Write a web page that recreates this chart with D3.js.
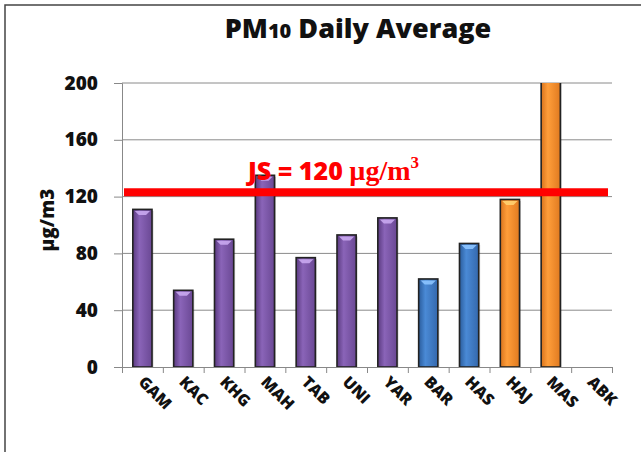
<!DOCTYPE html>
<html>
<head>
<meta charset="utf-8">
<script src="https://cdn.jsdelivr.net/npm/d3@7"></script>
<style>
  body { margin: 0; background: #fff; }
  svg { display: block; }
</style>
</head>
<body>
<div id="wrapper"></div>
<script>
// data
const stations = ["GAM", "KAC", "KHG", "MAH", "TAB", "UNI", "YAR", "BAR", "HAS", "HAJ", "MAS", "ABK"]
const pm10 = [111, 54, 90, 135, 77, 93, 105, 62, 87, 118, 215, null]
const groups = ["purple", "purple", "purple", "purple", "purple", "purple", "purple", "blue", "blue", "orange", "orange", "orange"]
const yTicks = [0, 40, 80, 120, 160, 200]
const standard = 123

const width = 641
const height = 452
const margin = { top: 83, right: 29, bottom: 85, left: 122 }
const boundedWidth = width - margin.left - margin.right
const boundedHeight = height - margin.top - margin.bottom

const font = "'Open Sans', Lato, sans-serif"

const svg = d3.select("#wrapper")
  .append("svg")
    .attr("width", width)
    .attr("height", height)

// gradients for the bevelled bars
const palette = {
  purple: ["#5a3a80", "#8a64b8", "#6a4894"],
  blue: ["#2a5c9c", "#4a8ad6", "#3468ad"],
  orange: ["#d8731c", "#ff9e3a", "#e07a20"],
}
const defs = svg.append("defs")
Object.entries(palette).forEach(([key, c]) => {
  const g = defs.append("linearGradient").attr("id", "grad-" + key)
    .attr("x1", "0").attr("x2", "1").attr("y1", "0").attr("y2", "0")
  g.append("stop").attr("offset", "0%").attr("stop-color", c[0])
  g.append("stop").attr("offset", "35%").attr("stop-color", c[1])
  g.append("stop").attr("offset", "100%").attr("stop-color", c[2])
})
defs.append("clipPath").attr("id", "plot-clip")
  .append("rect").attr("x", 0).attr("y", 0).attr("width", boundedWidth).attr("height", boundedHeight)

// outer frame
svg.append("rect")
  .attr("x", 5).attr("y", 5)
  .attr("width", width).attr("height", height)
  .attr("fill", "none")
  .attr("stroke", "#444")
  .attr("stroke-width", 1.5)

const bounds = svg.append("g")
  .attr("transform", `translate(${margin.left},${margin.top})`)

// scales
const xScale = d3.scaleBand()
  .domain(stations)
  .range([0, boundedWidth])
  .paddingInner(0)

const yScale = d3.scaleLinear()
  .domain([0, 200])
  .range([boundedHeight, 0])

// grid + y axis
const yAxis = d3.axisLeft(yScale)
  .tickValues(yTicks)
  .tickSize(8)
  .tickPadding(16)

const yAxisGroup = bounds.append("g").call(yAxis)
yAxisGroup.select(".domain").attr("stroke", "#888")
yAxisGroup.selectAll(".tick line").attr("stroke", "#888")
yAxisGroup.selectAll(".tick text")
  .attr("fill", "#111")
  .style("font-family", font)
  .style("font-size", "19px")
  .style("font-weight", "800")

bounds.append("g")
  .selectAll("line")
  .data(yTicks.filter(d => d > 0))
  .join("line")
    .attr("x1", 0)
    .attr("x2", boundedWidth)
    .attr("y1", d => yScale(d))
    .attr("y2", d => yScale(d))
    .attr("stroke", "#8a8a8a")
    .attr("stroke-width", 1)

// x axis
const xAxis = d3.axisBottom(d3.scaleLinear().domain([0, stations.length]).range([0, boundedWidth]))
  .tickValues(d3.range(stations.length + 1))
  .tickSize(6)
  .tickFormat("")
const xAxisGroup = bounds.append("g")
  .attr("transform", `translate(0,${boundedHeight})`)
  .call(xAxis)
xAxisGroup.select(".domain").attr("stroke", "#888")
xAxisGroup.selectAll(".tick line").attr("stroke", "#888")

// bars
const barW = xScale.bandwidth() * 0.47
const barData = stations.map((s, i) => ({ station: s, value: pm10[i], group: groups[i] }))
  .filter(d => d.value != null)

const barGroup = bounds.append("g").attr("clip-path", "url(#plot-clip)")
barGroup.selectAll("rect.shadow")
  .data(barData)
  .join("rect")
    .attr("class", "shadow")
    .attr("x", d => xScale(d.station) + (xScale.bandwidth() - barW) / 2 + 1.5)
    .attr("y", d => yScale(d.value) + 1.5)
    .attr("width", barW)
    .attr("height", d => boundedHeight - yScale(d.value))
    .attr("fill", "#000")
    .attr("opacity", 0.18)

barGroup.selectAll("rect.bar")
  .data(barData)
  .join("rect")
    .attr("class", "bar")
    .attr("x", d => xScale(d.station) + (xScale.bandwidth() - barW) / 2)
    .attr("y", d => yScale(d.value))
    .attr("width", barW)
    .attr("height", d => boundedHeight - yScale(d.value))
    .attr("fill", d => `url(#grad-${d.group})`)
    .attr("stroke", "#222")
    .attr("stroke-width", 1.6)

// small bevel highlight on top of each bar
barGroup.selectAll("path.cap")
  .data(barData)
  .join("path")
    .attr("class", "cap")
    .attr("d", d => {
      const x0 = xScale(d.station) + (xScale.bandwidth() - barW) / 2 + 2
      const x1 = x0 + barW - 4
      const y0 = yScale(d.value) + 1.5
      return `M${x0},${y0}L${x1},${y0}L${x1 - 4},${y0 + 4}L${x0 + 4},${y0 + 4}Z`
    })
    .attr("fill", d => d.group === "orange" ? "#ffd070" : d.group === "blue" ? "#8cc4ff" : "#c9a8f0")
    .attr("opacity", 0.9)

// x labels
bounds.append("g")
  .selectAll("text")
  .data(stations)
  .join("text")
    .attr("transform", d => `translate(${xScale(d) + xScale.bandwidth() / 2 - 5},${boundedHeight + 16}) rotate(45)`)
    .attr("fill", "#111")
    .style("font-family", font)
    .style("font-size", "16px")
    .style("font-weight", "800")
    .text(d => d)

// standard line
bounds.append("line")
  .attr("x1", 2)
  .attr("x2", boundedWidth - 4)
  .attr("y1", yScale(standard))
  .attr("y2", yScale(standard))
  .attr("stroke", "#ff0000")
  .attr("stroke-width", 8)

const stdLabel = svg.append("text")
  .attr("x", 248)
  .attr("y", 180)
  .attr("fill", "#ff0000")
  .style("font-weight", "700")
  .style("font-size", "25px")
stdLabel.append("tspan")
  .style("font-family", font)
  .style("font-weight", "800")
  .text("JS = 120 ")
stdLabel.append("tspan")
  .style("font-family", "'Liberation Serif', 'DejaVu Serif', serif")
  .style("font-size", "28px")
  .text("\u00b5g/m")
stdLabel.append("tspan")
  .style("font-family", "'Liberation Serif', 'DejaVu Serif', serif")
  .style("font-size", "17px")
  .attr("dy", -12)
  .text("3")

// title
const title = svg.append("text")
  .attr("x", 358)
  .attr("y", 38)
  .attr("text-anchor", "middle")
  .attr("fill", "#111")
  .style("font-family", font)
  .style("font-weight", "800")
  .style("font-size", "27px")
title.append("tspan").text("PM")
title.append("tspan").style("font-size", "20px").text("10")
title.append("tspan").text(" Daily Average")

// y axis label
svg.append("text")
  .attr("transform", `translate(54,${margin.top + boundedHeight / 2 - 5}) rotate(-90)`)
  .attr("text-anchor", "middle")
  .attr("fill", "#111")
  .style("font-family", font)
  .style("font-weight", "800")
  .style("font-size", "19px")
  .text("\u00b5g/m3")
</script>
</body>
</html>
